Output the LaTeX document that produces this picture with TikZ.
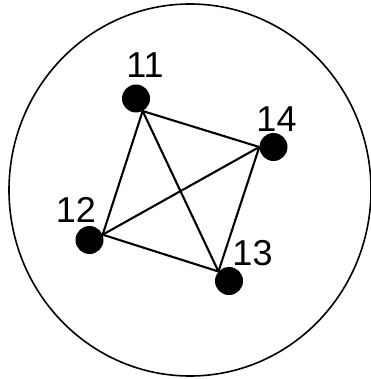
\documentclass[tikz,border=0pt]{standalone}
\usepackage{fontspec}
\setmainfont{Liberation Sans}
\begin{document}
\begin{tikzpicture}[x=1pt,y=-1pt,
  dot/.style={circle,fill=black,inner sep=0pt,minimum size=28pt},
  lbl/.style={inner sep=0pt,font=\fontsize{36}{40}\selectfont},
  edge/.style={line width=2.1pt},
  ring/.style={line width=1.6pt}]
\useasboundingbox (0,0) rectangle (370,379);
\draw[ring] (190,190) ellipse [x radius=181, y radius=186];
\node[dot] (n11) at (136,98.5) {};
\node[dot] (n14) at (273.5,147) {};
\node[dot] (n12) at (89.5,240) {};
\node[dot] (n13) at (229,281) {};
\node[lbl] (l11) at (145,65) {11};
\node[lbl] (l14) at (276.5,119) {14};
\node[lbl] (l12) at (76,210) {12};
\node[lbl] (l13) at (252.5,253.5) {13};
\draw[edge] (n11.-62) -- (n14.west);
\draw[edge] (n11.-62) -- (n12.22);
\draw[edge] (n11.-62) -- (n13.138);
\draw[edge] (n14.west) -- (n12.22);
\draw[edge] (n14.west) -- (n13.138);
\draw[edge] (n12.22) -- (n13.138);
\end{tikzpicture}
\end{document}
